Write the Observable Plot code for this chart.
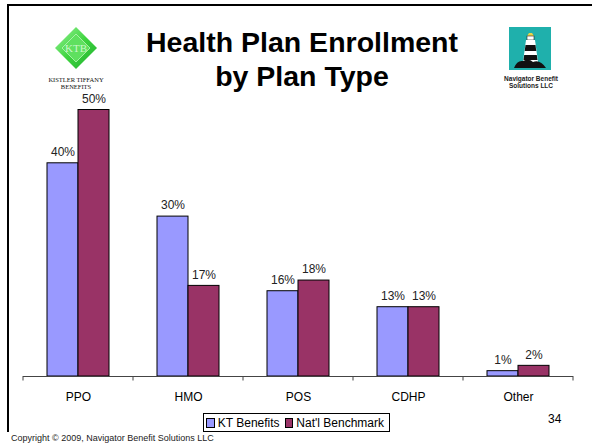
<!DOCTYPE html>
<html><head><meta charset="utf-8">
<script src="https://cdn.jsdelivr.net/npm/d3@7"></script>
<script src="https://cdn.jsdelivr.net/npm/@observablehq/plot@0.6"></script>
<style>
body{margin:0;background:#fff;font-family:"Liberation Sans",Arial,sans-serif;}
#wrap{position:relative;width:592px;height:444px;overflow:hidden;background:#fff;}
#frame{position:absolute;left:7px;top:4px;width:620px;height:428px;border-top:2px solid #000;border-left:2px solid #000;box-sizing:border-box;}
#chart{position:absolute;left:0;top:0;}
#title{position:absolute;left:2px;width:600px;top:25px;text-align:center;font-weight:bold;font-size:28.5px;line-height:34px;color:#000;}
#legend{position:absolute;left:203px;top:413px;width:187px;height:19px;border:1px solid #000;box-sizing:border-box;display:flex;align-items:center;font-size:12px;line-height:12px;padding-left:2px;}
#legend .sw{display:inline-block;width:8px;height:8px;border:1px solid #000;margin-right:3px;}
#legend .lb{margin-right:5px;white-space:nowrap;}
#page{position:absolute;left:548px;top:412px;font-size:12px;}
#copy{position:absolute;left:11px;top:433px;font-size:9px;color:#222;white-space:nowrap;}
#logos{position:absolute;left:0;top:0;}
</style></head>
<body>
<div id="wrap">
  <div id="frame"></div>
  <svg id="logos" width="592" height="110">
    <defs>
      <linearGradient id="gg" x1="0" y1="0" x2="1" y2="1">
        <stop offset="0" stop-color="#9af59a"/>
        <stop offset="0.5" stop-color="#3fd43f"/>
        <stop offset="1" stop-color="#1fae2f"/>
      </linearGradient>
    </defs>
    <polygon points="76,27 97,48 76,69 55,48" fill="url(#gg)"/>
    <polygon points="76,34 90,48 76,62 62,48" fill="#5fe05f" stroke="#b9f7b9" stroke-width="0.8"/>
    <text x="76" y="52" text-anchor="middle" font-family="Liberation Serif,serif" font-size="11" fill="#c9f7c9">KTB</text>
    <text x="76" y="82" text-anchor="middle" font-family="Liberation Serif,serif" font-size="6.5" fill="#111">KISTLER TIFFANY</text>
    <text x="76" y="88.5" text-anchor="middle" font-family="Liberation Serif,serif" font-size="6.5" fill="#111">BENEFITS</text>
    <rect x="509" y="27" width="42" height="43" fill="#1fb0ac"/>
    <polygon points="529,33 532,33 534,36 527,36" fill="#e8d44a"/>
    <rect x="527" y="36" width="7" height="4" fill="#fff" stroke="#222" stroke-width="0.6"/>
    <polygon points="526,40 535,40 538,62 523,62" fill="#fff"/>
    <polygon points="525.5,45 535.5,45 536.3,51 524.7,51" fill="#111"/>
    <polygon points="524.2,55 536.8,55 537.5,60 523.5,60" fill="#111"/>
    <path d="M514,68 Q517,60 523,61 Q529,58 533,62 Q540,59 546,68 Z" fill="#111"/>
    <text x="531" y="81" text-anchor="middle" font-size="6.5" font-weight="bold" fill="#222">Navigator Benefit</text>
    <text x="531" y="88" text-anchor="middle" font-size="6.5" font-weight="bold" fill="#222">Solutions LLC</text>
  </svg>
  <div id="title">Health Plan Enrollment<br>by Plan Type</div>
  <div id="chart"></div>
  <div id="legend"></div>
  <div id="page">34</div>
  <div id="copy">Copyright © 2009, Navigator Benefit Solutions LLC</div>
</div>
<script>
const categories = ["PPO", "HMO", "POS", "CDHP", "Other"];
const seriesNames = ["KT Benefits", "Nat'l Benchmark"];
const ktValues = [40, 30, 16, 13, 1];
const natlValues = [50, 17, 18, 13, 2];
const seriesColors = ["#9999FF", "#993366"];

const data = categories.flatMap((c, i) => [
  {cat: c, series: seriesNames[0], value: ktValues[i]},
  {cat: c, series: seriesNames[1], value: natlValues[i]}
]);

const chart = Plot.plot({
  width: 592, height: 410,
  marginLeft: 22, marginRight: 18, marginTop: 109.5, marginBottom: 34,
  style: {fontFamily: '"Liberation Sans", Arial, sans-serif', fontSize: "12px", color: "#000", background: "transparent"},
  fx: {domain: categories, padding: 0, label: null, axis: "bottom", tickSize: 0, tickPadding: 15.5},
  x: {domain: seriesNames, paddingInner: 0, paddingOuter: 0.74, axis: null},
  y: {domain: [0, 50], axis: null},
  color: {domain: seriesNames, range: seriesColors},
  marks: [
    Plot.barY(data, {fx: "cat", x: "series", y: "value", fill: "series", stroke: "#000", strokeWidth: 1}),
    Plot.ruleY([0], {stroke: "#444"}),
    Plot.text(data, {fx: "cat", x: "series", y: "value", text: d => d.value + "%", dy: -11, fontSize: 12, fill: "#222"})
  ]
});
document.getElementById("chart").appendChild(chart);

// category tick marks at band edges, from the library's fx scale
const fxs = chart.scale("fx");
const ys = chart.scale("y");
const y0 = ys.apply(0);
const bw = fxs.bandwidth;
const edges = fxs.domain.map(d => fxs.apply(d)).concat([fxs.apply(fxs.domain[fxs.domain.length - 1]) + bw]);
d3.select(chart).append("g").selectAll("line").data(edges).join("line")
  .attr("x1", d => d).attr("x2", d => d).attr("y1", y0).attr("y2", y0 + 4.5)
  .attr("stroke", "#444");

// legend
const lg = d3.select("#legend");
seriesNames.forEach((s, i) => {
  lg.append("span").attr("class", "sw").style("background", seriesColors[i]);
  lg.append("span").attr("class", "lb").text(s);
});
</script>
</body></html>
